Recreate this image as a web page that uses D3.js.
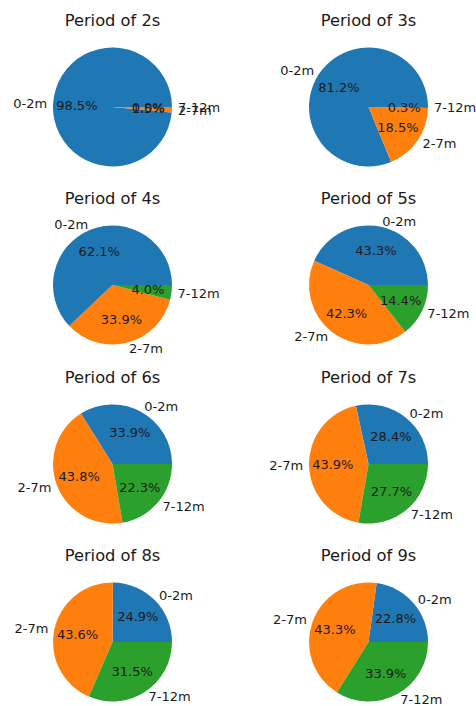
<!DOCTYPE html>
<html lang="en">
<head>
<meta charset="UTF-8">
<title>Period pies</title>
<script src="https://d3js.org/d3.v7.min.js"></script>
<style>
  body { margin: 0; background: #fff; }
  text { font-family: "DejaVu Sans", sans-serif; fill: #1a1a1a; }
</style>
</head>
<body>
<div id="chart"></div>
<script>
    // categories and values (percent) for each period
    let categories = ['0-2m', '2-7m', '7-12m'],
        periods = ['2s', '3s', '4s', '5s', '6s', '7s', '8s', '9s'],
        share2s = [98.5, 1.5, 0.0],
        share3s = [81.2, 18.5, 0.3],
        share4s = [62.1, 33.9, 4.0],
        share5s = [43.3, 42.3, 14.4],
        share6s = [33.9, 43.8, 22.3],
        share7s = [28.4, 43.9, 27.7],
        share8s = [24.9, 43.6, 31.5],
        share9s = [22.8, 43.3, 33.9],
        shares = [share2s, share3s, share4s, share5s, share6s, share7s, share8s, share9s],
        colors = ['#1f77b4', '#ff7f0e', '#2ca02c'];

    let W = 476, H = 706,
        colX = [112.5, 368.5],
        rowY = [107, 285, 464, 642],
        r = 59.5;

    let svg = d3.select('#chart').append('svg').attr('width', W).attr('height', H);

    // matplotlib style: start at 3 o'clock, go counterclockwise
    let pie = d3.pie().sort(null).value(d => d.v)
            .startAngle(Math.PI / 2).endAngle(Math.PI / 2 - 2 * Math.PI),
        arc = d3.arc().innerRadius(0).outerRadius(r),
        color = d3.scaleOrdinal().domain(categories).range(colors);

    periods.forEach((p, i) => {
        let cx = colX[i % 2], cy = rowY[Math.floor(i / 2)],
            data = categories.map((c, j) => ({'c': c, 'v': shares[i][j]})),
            g = svg.append('g').attr('transform', 'translate(' + cx + ',' + cy + ')');

        g.append('text')
            .attr('x', 0).attr('y', -r - 22)
            .attr('text-anchor', 'middle')
            .style('font-size', '16.3px')
            .text('Period of ' + p);

        let arcs = pie(data);
        g.selectAll('path').data(arcs).enter().append('path')
            .attr('d', arc)
            .attr('fill', d => color(d.data.c));

        arcs.forEach(d => {
            let a = (d.startAngle + d.endAngle) / 2,
                sx = Math.sin(a), sy = -Math.cos(a);
            g.append('text')
                .attr('x', 1.1 * r * sx).attr('y', 1.1 * r * sy)
                .attr('text-anchor', sx > 0 ? 'start' : 'end')
                .attr('dominant-baseline', 'central')
                .style('font-size', '13px')
                .text(d.data.c);
            g.append('text')
                .attr('x', 0.6 * r * sx).attr('y', 0.6 * r * sy)
                .attr('text-anchor', 'middle')
                .attr('dominant-baseline', 'central')
                .style('font-size', '13px')
                .text(d.data.v.toFixed(1) + '%');
        });
    });
</script>
</body>
</html>
